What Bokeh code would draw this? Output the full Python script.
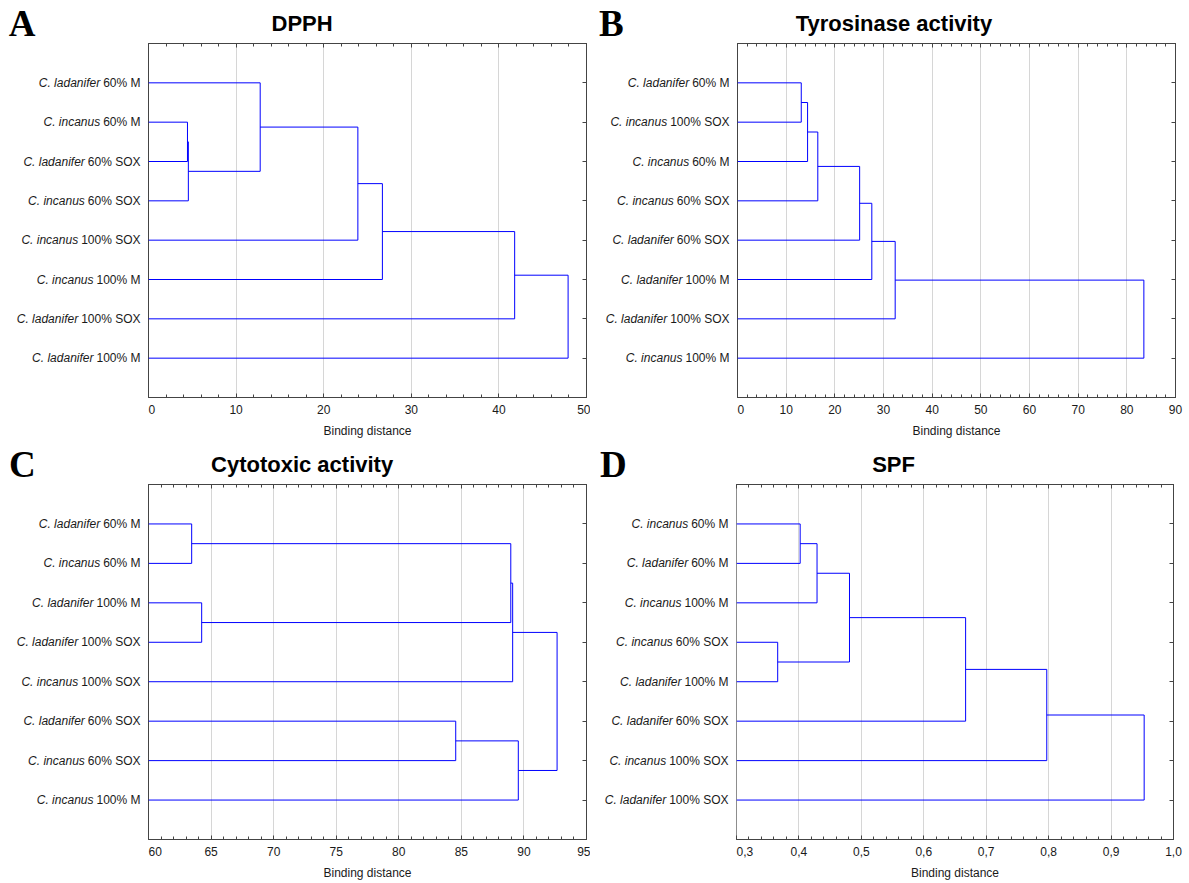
from bokeh.plotting import figure
from bokeh.models import (Range1d, LinearAxis, SingleIntervalTicker, FixedTicker,
                          CustomJSTickFormatter, ColumnDataSource)
from bokeh.layouts import column, row
from bokeh.core.properties import value
from bokeh.embed import file_html
from bokeh.resources import INLINE

# ---------------- data ----------------
# Panel A - DPPH
a_letter = "A"
a_title = "DPPH"
a_leaves = ["C. ladanifer 60% M", "C. incanus 60% M", "C. ladanifer 60% SOX",
            "C. incanus 60% SOX", "C. incanus 100% SOX", "C. incanus 100% M",
            "C. ladanifer 100% SOX", "C. ladanifer 100% M"]
a_left = [1, 8, 0, 10, 11, 12, 13]
a_right = [2, 3, 9, 4, 5, 6, 7]
a_dist = [4.45, 4.55, 12.75, 23.9, 26.7, 41.8, 47.9]
a_xmin, a_xmax, a_step = 0, 50, 10

# Panel B - Tyrosinase activity
b_letter = "B"
b_title = "Tyrosinase activity"
b_leaves = ["C. ladanifer 60% M", "C. incanus 100% SOX", "C. incanus 60% M",
            "C. incanus 60% SOX", "C. ladanifer 60% SOX", "C. ladanifer 100% M",
            "C. ladanifer 100% SOX", "C. incanus 100% M"]
b_left = [0, 8, 9, 10, 11, 12, 13]
b_right = [1, 2, 3, 4, 5, 6, 7]
b_dist = [13.1, 14.4, 16.5, 25.1, 27.6, 32.4, 83.5]
b_xmin, b_xmax, b_step = 0, 90, 10

# Panel C - Cytotoxic activity
c_letter = "C"
c_title = "Cytotoxic activity"
c_leaves = ["C. ladanifer 60% M", "C. incanus 60% M", "C. ladanifer 100% M",
            "C. ladanifer 100% SOX", "C. incanus 100% SOX", "C. ladanifer 60% SOX",
            "C. incanus 60% SOX", "C. incanus 100% M"]
c_left = [0, 2, 8, 10, 5, 12, 11]
c_right = [1, 3, 9, 4, 6, 7, 13]
c_dist = [63.45, 64.25, 88.95, 89.1, 84.55, 89.55, 92.65]
c_xmin, c_xmax, c_step = 60, 95, 5

# Panel D - SPF
d_letter = "D"
d_title = "SPF"
d_leaves = ["C. incanus 60% M", "C. ladanifer 60% M", "C. incanus 100% M",
            "C. incanus 60% SOX", "C. ladanifer 100% M", "C. ladanifer 60% SOX",
            "C. incanus 100% SOX", "C. ladanifer 100% SOX"]
d_left = [0, 8, 3, 9, 11, 12, 13]
d_right = [1, 2, 4, 10, 5, 6, 7]
d_dist = [0.402, 0.429, 0.366, 0.481, 0.667, 0.797, 0.953]
d_xmin, d_xmax, d_step = 0.3, 1.0, 0.1

x_label = "Binding distance"

# ---------------- style ----------------
FONT = "Liberation Sans"
LINE = "#0000ff"
FRAME = "#444444"
TXT = "#1a1a1a"
FS = 12
# approximate Arial advance widths (em) for the upright part of the labels
ADV = {" ": 0.278, "%": 0.889, "M": 0.833, "S": 0.667, "O": 0.778, "X": 0.667}


def text_width(s, size):
    return sum(ADV.get(ch, 0.556) for ch in s) * size


def bare(width, height, x_range, y_range):
    p = figure(width=width, height=height, x_range=x_range, y_range=y_range,
               x_axis_location=None, y_axis_location=None, toolbar_location=None,
               output_backend="svg", min_border_left=0, min_border_right=0,
               min_border_top=0, min_border_bottom=0,
               background_fill_color="white", border_fill_color="white")
    p.outline_line_color = None
    p.grid.visible = False
    return p


def panel(letter, title, leaves, left, right, dist, xmin, xmax, step, decimal_comma,
          lab_w, plot_w, br, head_h, frame_h, bt, bb, letter_x, title_cx, title_cy):
    n = len(leaves)
    yr = Range1d(n, -1)
    unit = frame_h / (n + 1)
    total_h = head_h + bt + frame_h + bb

    # ---- left column: panel letter + leaf labels (frame = whole canvas) ----
    lf = bare(lab_w, total_h, Range1d(0, lab_w),
              Range1d(n + bb / unit, -1 - (head_h + bt) / unit))
    genus = [" ".join(s.split(" ")[:2]) for s in leaves]
    rest = [" ".join(s.split(" ")[2:]) for s in leaves]
    goff = [-(8 + text_width(r, FS) + 0.25 * FS) for r in rest]
    src = ColumnDataSource(dict(x=[lab_w] * n, y=list(range(n)), genus=genus,
                                rest=rest, goff=goff))
    lf.text(x="x", y="y", text="rest", source=src, x_offset=-8,
            text_align="right", text_baseline="middle", text_font=value(FONT),
            text_font_size="12px", text_color=TXT)
    lf.text(x="x", y="y", text="genus", source=src, x_offset="goff",
            text_align="right", text_baseline="middle", text_font=value(FONT),
            text_font_size="12px", text_font_style="italic", text_color=TXT)
    lf.text(x=[letter_x], y=[-1 - 20.5 / unit], text=[letter], text_align="left",
            text_baseline="middle", text_font=value("Liberation Serif"),
            text_font_size="37px", text_font_style="bold", text_color="black")

    # ---- title strip above the dendrogram ----
    hd = bare(plot_w, head_h, Range1d(0, plot_w), Range1d(0, head_h))
    hd.text(x=[title_cx], y=[title_cy], text=[title], text_align="center",
            text_baseline="middle", text_font=value(FONT), text_font_size="22px",
            text_font_style="bold", text_color="black")

    # ---- dendrogram figure ----
    p = figure(width=plot_w, height=bt + frame_h + bb, x_range=Range1d(xmin, xmax),
               y_range=yr, y_axis_location=None, toolbar_location=None,
               output_backend="svg", min_border_left=0, min_border_right=br,
               min_border_top=bt, min_border_bottom=bb,
               background_fill_color="white", border_fill_color="white")
    p.outline_line_color = FRAME
    p.outline_line_width = 1

    px = [xmin] * n
    py = list(range(n))
    xs, ys = [], []
    for a, b, h in zip(left, right, dist):
        xs.append([px[a], h, h, px[b]])
        ys.append([py[a], py[a], py[b], py[b]])
        px.append(h)
        py.append((py[a] + py[b]) / 2)
    p.multi_line(xs, ys, line_color=LINE, line_width=1)

    ax = p.xaxis[0]
    ax.ticker = SingleIntervalTicker(interval=step, num_minor_ticks=5)
    if decimal_comma:
        ax.formatter = CustomJSTickFormatter(code="return tick.toFixed(1).replace('.', ',');")
    ax.axis_label = x_label
    ax.axis_label_text_font = FONT
    ax.axis_label_text_font_size = "12px"
    ax.axis_label_text_font_style = "normal"
    ax.axis_label_text_color = TXT
    ax.axis_label_standoff = 7
    ax.major_label_text_font = FONT
    ax.major_label_text_font_size = "12px"
    ax.major_label_text_color = TXT
    ax.major_label_standoff = 7
    ax.major_tick_in = 4
    ax.major_tick_out = 0
    ax.minor_tick_in = 3
    ax.minor_tick_out = 0
    ax.axis_line_color = FRAME
    ax.major_tick_line_color = FRAME
    ax.minor_tick_line_color = FRAME

    for g in p.xgrid:
        g.grid_line_color = "#d6d6d6"
        g.grid_line_width = 1
    for g in p.ygrid:
        g.visible = False

    top = LinearAxis(ticker=SingleIntervalTicker(interval=step, num_minor_ticks=5),
                     formatter=CustomJSTickFormatter(code="return '';"),
                     major_tick_in=4, major_tick_out=0, minor_tick_in=3,
                     minor_tick_out=0, major_label_standoff=0,
                     axis_line_color=FRAME, major_tick_line_color=FRAME,
                     minor_tick_line_color=FRAME, major_label_text_font_size="1px")
    p.add_layout(top, "above")

    rgt = LinearAxis(ticker=FixedTicker(ticks=list(range(n))),
                     formatter=CustomJSTickFormatter(code="return '';"),
                     major_tick_in=4, major_tick_out=0, minor_tick_in=0,
                     minor_tick_out=0, major_label_standoff=0,
                     axis_line_color=FRAME, major_tick_line_color=FRAME,
                     major_label_text_font_size="1px")
    p.add_layout(rgt, "right")
    return row(lf, column(hd, p))


pa = panel(a_letter, a_title, a_leaves, a_left, a_right, a_dist, a_xmin, a_xmax, a_step,
           False, 148, 442, 4, 40, 354, 3, 45, 8.3, 155, 17.2)
pb = panel(b_letter, b_title, b_leaves, b_left, b_right, b_dist, b_xmin, b_xmax, b_step,
           False, 147, 448, 10, 40, 354, 3, 45, 8.5, 160, 17.2)
pc = panel(c_letter, c_title, c_leaves, c_left, c_right, c_dist, c_xmin, c_xmax, c_step,
           False, 148, 442, 4, 39, 355, 3, 43, 8.4, 155, 16.6)
pd = panel(d_letter, d_title, d_leaves, d_left, d_right, d_dist, d_xmin, d_xmax, d_step,
           True, 146, 448, 11, 39, 355, 3, 43, 9.5, 161, 16.6)

layout = column(row(pa, pb), row(pc, pd))

open("out.html", "w").write(file_html(layout, INLINE))
